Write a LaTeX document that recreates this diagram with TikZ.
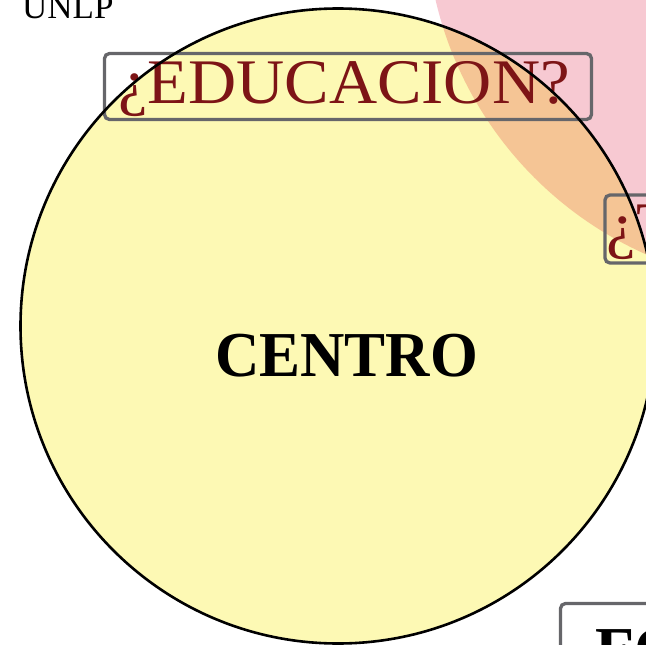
\documentclass[tikz,border=0pt]{standalone}
\usepackage{fontspec}
\setmainfont{Liberation Serif}
\definecolor{yellowc}{RGB}{253,249,180}
\definecolor{pinkc}{RGB}{247,201,210}
\definecolor{orangec}{RGB}{245,197,149}
\definecolor{textred}{RGB}{125,20,22}
\definecolor{boxgray}{RGB}{102,102,106}
\tikzset{
  qbox/.style={draw=boxgray, line width=3.3pt, rounded corners=5pt},
  qtext/.style={text=textred, inner sep=0pt, font=\fontsize{63.5}{63.5}\selectfont, xscale=1.05},
  btext/.style={text=black, inner sep=0pt, font=\bfseries\fontsize{64}{64}\selectfont},
}
\begin{document}
\begin{tikzpicture}[x=1pt,y=-1pt]
\useasboundingbox (0,0) rectangle (646,645);
\begin{scope}
\clip (0,0) rectangle (646,645);
% pink circle
\fill[pinkc] (796,-84) circle [radius=370pt];
% yellow circle
\fill[yellowc] (338,326) circle [radius=317.5pt];
% overlap
\begin{scope}
\clip (796,-84) circle [radius=370pt];
\fill[orangec] (338,326) circle [radius=317.5pt];
\end{scope}
% texts
\node[anchor=base west, inner sep=0pt, font=\fontsize{35}{35}\selectfont] (unlp) at (22,18.3) {UNLP};
\node[btext, anchor=base, xscale=0.96] (centro) at (346.5,376.7) {CENTRO};
\draw[qbox] (104.5,53.5) rectangle (591.5,119.5);
\node[qtext, anchor=base] (edu) at (344,103) {¿EDUCACION?};
\draw[qbox] (605,195) rectangle (720,263);
\node[qtext, anchor=base west] (q2) at (606.5,246) {¿T};
\draw[qbox, fill=white] (560.5,603.5) rectangle (720,720);
\node[btext, anchor=base west] (fo) at (595,671) {FO};
% circle outline
\draw[line width=2.6pt, black] (338,326) circle [radius=317.5pt];
\end{scope}
\end{tikzpicture}
\end{document}
